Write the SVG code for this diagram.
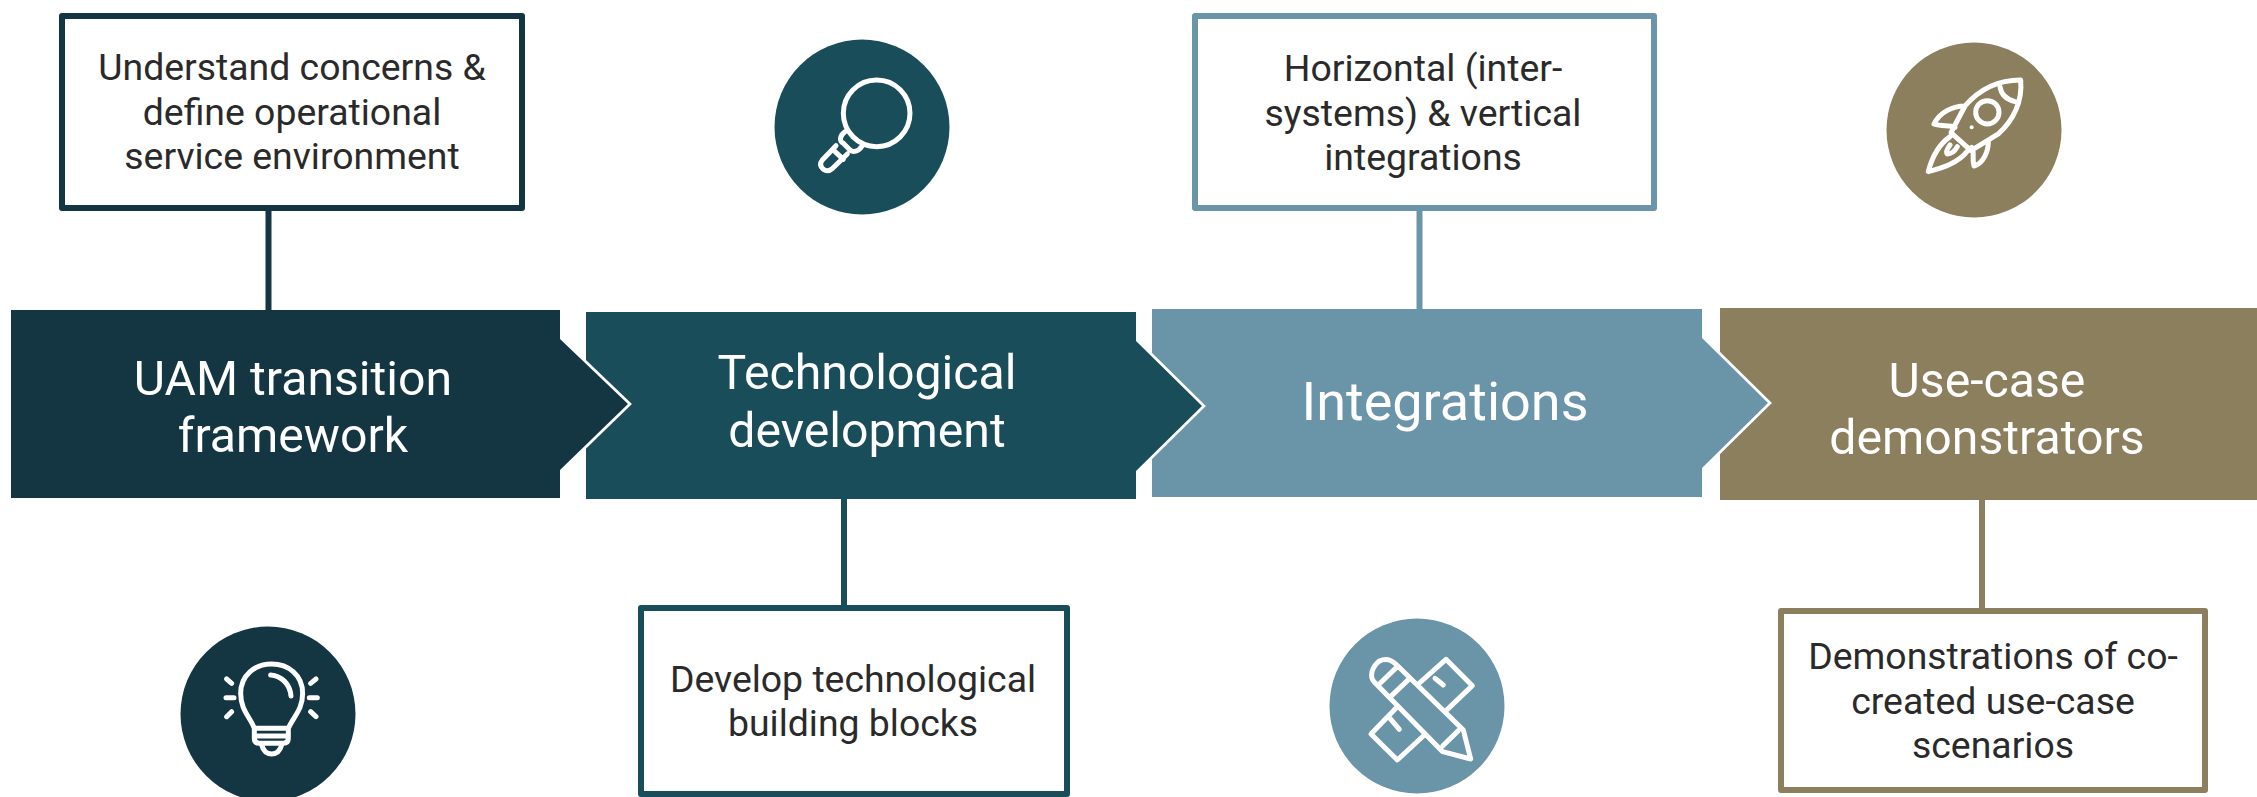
<svg xmlns="http://www.w3.org/2000/svg" width="2257" height="797" viewBox="0 0 2257 797">
<style>
text{font-family:Roboto,"Liberation Sans",sans-serif;text-anchor:middle}
.t{font-size:37.4px;fill:#2a2a2a}
.h{font-size:48.200px;fill:#fff}
.box{fill:#fff;stroke-width:6;stroke-linejoin:round}
.ic{fill:none;stroke:#fff;stroke-width:15;stroke-linecap:round;stroke-linejoin:round}
.halo{fill:none;stroke:#fff;stroke-width:5.500;stroke-linejoin:miter}
.c1{fill:#143642}.c2{fill:#1a4d5a}.c3{fill:#6a94a8}.c4{fill:#8c7f5e}
.s1{stroke:#143642}.s2{stroke:#1a4d5a}.s3{stroke:#6a94a8}.s4{stroke:#8c7f5e}
</style>
<g id="connectors" fill="none" stroke-width="6">
<line class="s1" x1="268.500" y1="211" x2="268.500" y2="311"/>
<line class="s2" x1="844" y1="499" x2="844" y2="607"/>
<line class="s3" x1="1419.500" y1="211" x2="1419.500" y2="310"/>
<line class="s4" x1="1982" y1="500" x2="1982" y2="610"/>
</g>
<g id="chevron4"><rect class="c4" x="1720" y="308" width="537" height="192"/>
<text class="h"><tspan x="1987" y="397">Use-case</tspan><tspan x="1987" y="454">demonstrators</tspan></text></g>
<g id="chevron3"><polyline class="halo" points="1702,338 1768,403 1702,468"/><path class="c3" d="M1152 309H1702V338L1768 403 1702 468V497H1152Z"/>
<text class="h" style="font-size:54px" x="1445" y="420">Integrations</text></g>
<g id="chevron2"><polyline class="halo" points="1136,341 1202,406 1136,471"/><path class="c2" d="M586 312H1136V341L1202 406 1136 471V499H586Z"/>
<text class="h"><tspan x="867" y="389">Technological</tspan><tspan x="867" y="447">development</tspan></text></g>
<g id="chevron1"><polyline class="halo" points="560,339 628,404 560,470"/><path class="c1" d="M11 310H560V339L628 404 560 470V498H11Z"/>
<text class="h"><tspan x="293" y="395">UAM transition</tspan><tspan x="293" y="452">framework</tspan></text></g>
<g id="box1"><rect class="box s1" x="62" y="16" width="460" height="192"/>
<text class="t"><tspan x="292" y="80">Understand concerns &amp;</tspan><tspan x="292" y="125">define operational</tspan><tspan x="292" y="169">service environment</tspan></text></g>
<g id="box2"><rect class="box s2" x="641" y="608" width="426" height="186"/>
<text class="t"><tspan x="853" y="692">Develop technological</tspan><tspan x="853" y="736">building blocks</tspan></text></g>
<g id="box3"><rect class="box s3" x="1195" y="16" width="459" height="192"/>
<text class="t"><tspan x="1423" y="81">Horizontal (inter-</tspan><tspan x="1423" y="126">systems) &amp; vertical</tspan><tspan x="1423" y="170">integrations</tspan></text></g>
<g id="box4"><rect class="box s4" x="1781" y="611" width="424" height="179"/>
<text class="t"><tspan x="1993" y="669">Demonstrations of co-</tspan><tspan x="1993" y="714">created use-case</tspan><tspan x="1993" y="758">scenarios</tspan></text></g>
<g id="icon1"><circle class="c1" cx="268" cy="714" r="87.500"/>
<g transform="translate(160 610) scale(.3333)"><path class="ic" d="M283 355C270 320 242 300 242 250 242 195 285 162 335 162 385 162 428 195 428 250 428 300 400 320 385 355M283 355H385V385Q385 400 370 400H298Q283 400 283 385ZM283 378H385M305 405Q312 432 335 432 358 432 365 405M332 195C365 198 390 222 393 258M200 207 215 220M198 263H222M200 320 215 305M468 207 452 220M472 263H448M468 320 452 305"/></g></g>
<g id="icon2"><circle class="c2" cx="862" cy="127" r="87.500"/>
<g transform="translate(760 20) scale(.3333)"><circle class="ic" cx="350" cy="280" r="100"/><path class="ic" d="M255 335C235 350 240 365 250 370L270 390C280 398 295 395 305 380M228 377 187 420Q175 435 190 448 203 458 218 445L262 402M218 388 250 418"/></g></g>
<g id="icon3"><circle class="c3" cx="1417" cy="706" r="87.500"/>
<g transform="translate(1310 610) scale(.3333)"><path class="ic" d="M258 163 460 360 482 447 398 425 192 215Q182 205 186 185 192 165 208 153 235 140 258 163ZM208 222 262 170M242 260 296 208M398 408 445 362M325 222 408 148 487 227 405 305M375 205 400 225M262 290 183 372 262 450 343 375M240 325 268 358"/></g></g>
<g id="icon4"><circle class="c4" cx="1974" cy="130" r="87.500"/>
<g transform="translate(1870 30) scale(.3333)"><path class="ic" d="M452 150C395 150 335 170 285 228L243 308 303 362 385 312C430 272 458 215 452 150ZM390 170Q395 205 435 215M285 228C250 228 210 245 192 282 215 290 235 285 255 292M355 335C355 365 340 400 312 408 305 385 315 365 305 352M240 320C205 345 185 385 175 425 215 415 265 400 295 360M240 345Q225 365 232 372 250 372 262 350"/><circle class="ic" cx="352" cy="247" r="35"/><circle cx="305" cy="292" r="6" fill="#fff"/></g></g>
</svg>
